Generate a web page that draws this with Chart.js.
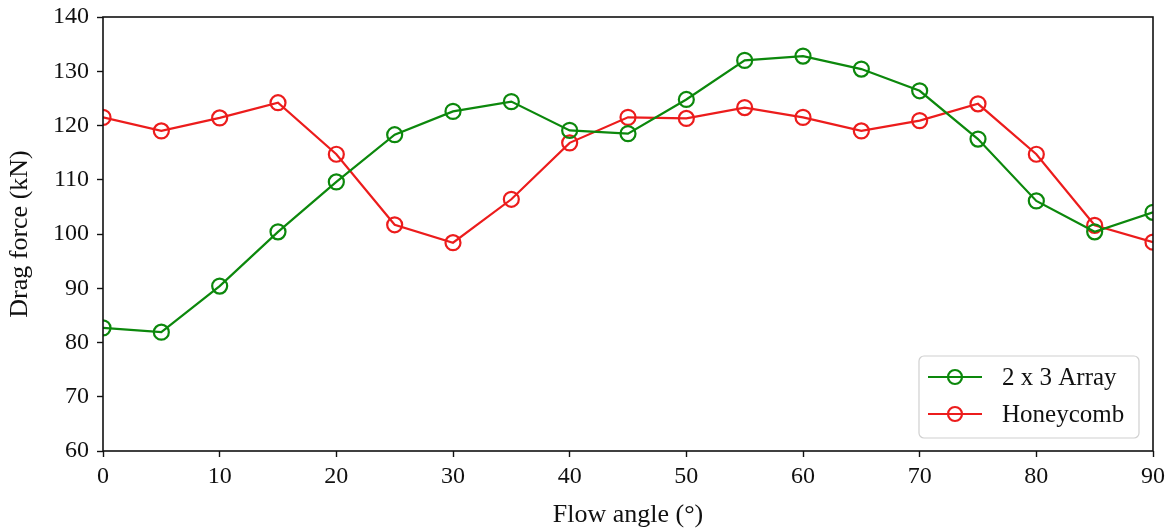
<!DOCTYPE html>
<html>
<head>
<meta charset="utf-8">
<script src="https://cdn.jsdelivr.net/npm/chart.js@4.4.1/dist/chart.umd.min.js"></script>
<style>
  html, body { margin: 0; padding: 0; background: #fff; }
  #wrap { width: 1172px; height: 528px; }
</style>
</head>
<body>
<div id="wrap"><canvas id="c" width="1172" height="528"></canvas></div>
<script>
// Flow angle (degrees) and drag force (kN) for the two layouts
const angles = [0, 5, 10, 15, 20, 25, 30, 35, 40, 45, 50, 55, 60, 65, 70, 75, 80, 85, 90];
const arrayForce = [82.7, 81.9, 90.4, 100.4, 109.6, 118.3, 122.6, 124.4, 119.1, 118.5, 124.8, 132.0, 132.8, 130.4, 126.4, 117.5, 106.1, 100.4, 104.0];
const honeycombForce = [121.5, 119.0, 121.4, 124.2, 114.7, 101.7, 98.4, 106.4, 116.8, 121.5, 121.3, 123.3, 121.5, 119.0, 120.9, 124.0, 114.7, 101.6, 98.5];
const seriesNames = ['2 x 3 Array', 'Honeycomb'];
const seriesColors = ['#0c880c', '#ec1c1c'];
const xTicks = [0, 10, 20, 30, 40, 50, 60, 70, 80, 90];
const yTicks = [60, 70, 80, 90, 100, 110, 120, 130, 140];

const FONT = '"Liberation Serif", "Times New Roman", serif';

function toPoints(xs, ys) { return xs.map((x, i) => ({ x: x, y: ys[i] })); }

function lineSet(label, data, color) {
  return {
    label: label,
    data: data,
    borderColor: color,
    borderWidth: 2.2,
    pointStyle: 'circle',
    pointRadius: 7.5,
    pointHoverRadius: 7.5,
    pointBorderWidth: 2.2,
    pointBorderColor: color,
    pointBackgroundColor: 'rgba(0,0,0,0)',
    tension: 0,
    clip: 0
  };
}

// Box round the plot area
const framePlugin = {
  id: 'frame',
  afterDatasetsDraw(chart) {
    const a = chart.chartArea, ctx = chart.ctx;
    ctx.save();
    ctx.strokeStyle = '#111';
    ctx.lineWidth = 1.6;
    ctx.strokeRect(a.left, a.top, a.right - a.left, a.bottom - a.top);
    ctx.restore();
  }
};

// Legend drawn inside the lower right corner of the plot
const insideLegend = {
  id: 'insideLegend',
  afterDraw(chart) {
    const a = chart.chartArea, ctx = chart.ctx;
    const w = 220, h = 82, r = 5;
    const x0 = a.right - 14 - w, y0 = a.bottom - 13 - h;
    ctx.save();
    ctx.beginPath();
    ctx.moveTo(x0 + r, y0);
    ctx.arcTo(x0 + w, y0, x0 + w, y0 + h, r);
    ctx.arcTo(x0 + w, y0 + h, x0, y0 + h, r);
    ctx.arcTo(x0, y0 + h, x0, y0, r);
    ctx.arcTo(x0, y0, x0 + w, y0, r);
    ctx.closePath();
    ctx.fillStyle = 'rgba(255,255,255,0.85)';
    ctx.fill();
    ctx.strokeStyle = '#d0d0d0';
    ctx.lineWidth = 1.2;
    ctx.stroke();
    ctx.font = '25px ' + FONT;
    ctx.textBaseline = 'middle';
    ctx.textAlign = 'left';
    chart.data.datasets.forEach((ds, i) => {
      const cy = y0 + 21 + i * 37;
      ctx.strokeStyle = ds.borderColor;
      ctx.lineWidth = 2.2;
      ctx.beginPath();
      ctx.moveTo(x0 + 9, cy);
      ctx.lineTo(x0 + 63, cy);
      ctx.stroke();
      ctx.beginPath();
      ctx.arc(x0 + 36, cy, 7, 0, Math.PI * 2);
      ctx.stroke();
      ctx.fillStyle = '#111';
      ctx.fillText(ds.label, x0 + 83, cy + 1);
    });
    ctx.restore();
  }
};

new Chart(document.getElementById('c'), {
  type: 'line',
  data: {
    datasets: [
      lineSet(seriesNames[0], toPoints(angles, arrayForce), seriesColors[0]),
      lineSet(seriesNames[1], toPoints(angles, honeycombForce), seriesColors[1])
    ]
  },
  options: {
    responsive: false,
    animation: false,
    events: [],
    layout: { padding: { top: 17, right: 19, left: 0, bottom: 0 } },
    plugins: {
      legend: { display: false },
      tooltip: { enabled: false }
    },
    scales: {
      x: {
        type: 'linear',
        min: 0, max: 90,
        afterBuildTicks(scale) { scale.ticks = xTicks.map(v => ({ value: v })); },
        afterFit(scale) { scale.height = 77; scale.paddingLeft = 0; scale.paddingRight = 0; },
        grid: { drawOnChartArea: false, drawTicks: true, tickLength: 6, tickColor: '#111', tickWidth: 1.4 },
        border: { display: false },
        ticks: { color: '#111', font: { family: FONT, size: 24 }, padding: 5, maxRotation: 0 },
        title: { display: true, text: 'Flow angle (°)', color: '#111', font: { family: FONT, size: 26 }, padding: { top: 2, bottom: -3 } }
      },
      y: {
        min: 60, max: 140,
        afterBuildTicks(scale) { scale.ticks = yTicks.map(v => ({ value: v })); },
        afterFit(scale) { scale.width = 103; scale.paddingTop = 0; scale.paddingBottom = 0; },
        grid: { drawOnChartArea: false, drawTicks: true, tickLength: 6, tickColor: '#111', tickWidth: 1.4 },
        border: { display: false },
        ticks: { color: '#111', font: { family: FONT, size: 24 }, padding: 8 },
        title: { display: true, text: 'Drag force (kN)', color: '#111', font: { family: FONT, size: 26 }, padding: { top: 5, bottom: 0 } }
      }
    }
  },
  plugins: [framePlugin, insideLegend]
});
</script>
</body>
</html>
